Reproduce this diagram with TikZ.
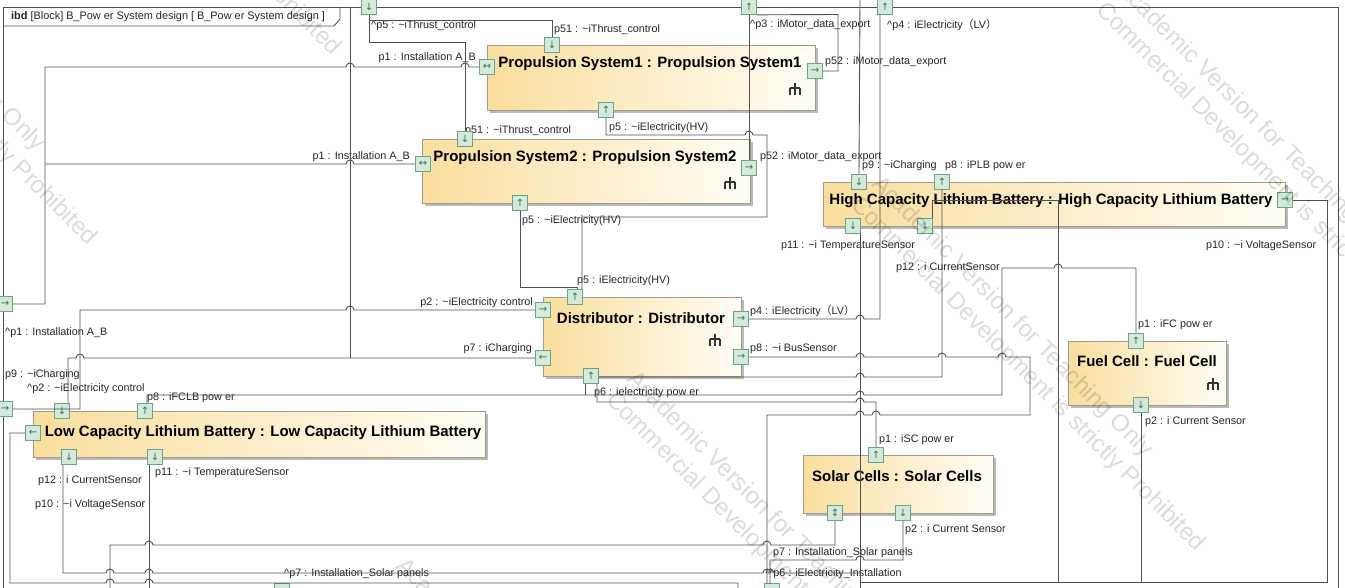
\documentclass[tikz,border=0pt]{standalone}
\usepackage{fontspec}
\setmainfont{Liberation Sans}
\newfontfamily\dejavu{DejaVu Sans}
\newfontfamily\cjk{Noto Sans CJK SC}
\usetikzlibrary{shadows}

\definecolor{ln}{RGB}{80,80,80}
\definecolor{pfill}{RGB}{212,233,220}
\definecolor{pdraw}{RGB}{105,165,130}
\definecolor{parw}{RGB}{50,120,80}
\definecolor{bdraw}{RGB}{160,155,140}
\definecolor{byel}{RGB}{250,222,158}
\definecolor{bwht}{RGB}{255,253,245}

\newcommand{\hR}[2]{-- ({#1-4},#2) arc[start angle=180,end angle=0,radius=4pt]}
\newcommand{\hL}[2]{-- ({#1+4},#2) arc[start angle=0,end angle=180,radius=4pt]}

\tikzset{
 conn/.style={draw=ln, line width=0.9pt},
 frm/.style={draw=ln, line width=0.9pt},
 blk/.style={draw=bdraw, line width=0.8pt, left color=byel, right color=bwht, inner sep=0pt, anchor=north west,
   drop shadow={shadow xshift=3pt,shadow yshift=-3pt,fill=black!45,opacity=0.6}},
 ttl/.style={font=\fontsize{15}{17}\selectfont\bfseries, text=black, inner sep=0pt},
 port/.style={draw=pdraw, fill=pfill, line width=0.7pt, minimum size=15pt, inner sep=0pt, font=\dejavu\fontsize{10}{10}\selectfont, text=parw},
 lbl/.style={font=\fontsize{10.8}{12}\selectfont, text=black!85, inner sep=0pt},
 wmk/.style={font=\fontsize{24}{28}\selectfont, text=black, opacity=0.14, rotate=-45, anchor=base west, inner sep=0pt},
 icon/.pic={\draw[line width=1.4pt, black!80] (0,-6)--(0,6) (-5,-1)--(5,-1) (-5,-1)--(-5,6) (5,-1)--(5,6);}
}

\begin{document}
\begin{tikzpicture}[x=1pt,y=-1pt]
\useasboundingbox (0,0) rectangle (1345,588);
\clip (0,0) rectangle (1345,588);
\fill[white] (0,0) rectangle (1345,588);

% frame
\draw[frm] (3,7) rectangle (1338,591);
\draw[frm] (3,26) -- (334,26) -- (340,19) -- (340,7);
\node[lbl, anchor=west, font=\fontsize{10.9}{12}\selectfont] (hdr) at (11,17) {\textbf{ibd} [Block] B\_Pow er System design [ B\_Pow er System design ]};

% blocks
\node[blk, minimum width=328pt, minimum height=65pt] (ps1) at (487,45) {};
\node[blk, minimum width=328pt, minimum height=64pt] (ps2) at (422,139) {};
\node[blk, minimum width=462pt, minimum height=44pt] (hclb) at (823,182) {};
\node[blk, minimum width=198pt, minimum height=79pt] (dist) at (543,297) {};
\node[blk, minimum width=158pt, minimum height=64pt] (fc) at (1068,341) {};
\node[blk, minimum width=452pt, minimum height=46pt] (lclb) at (33,411) {};
\node[blk, minimum width=190pt, minimum height=58pt] (sc) at (803,455) {};

\node[ttl] (t1) at (650,64) {Propulsion System1 : Propulsion System1};
\node[ttl] (t2) at (585,158) {Propulsion System2 : Propulsion System2};
\node[ttl] (t3) at (1051,201) {High Capacity Lithium Battery : High Capacity Lithium Battery};
\node[ttl] (t4) at (641,318) {Distributor : Distributor};
\node[ttl] (t5) at (1147,361) {Fuel Cell : Fuel Cell};
\node[ttl] (t6) at (263,433) {Low Capacity Lithium Battery : Low Capacity Lithium Battery};
\node[ttl] (t7) at (897,476) {Solar Cells : Solar Cells};

\pic at (795,89) {icon};
\pic at (730,183) {icon};
\pic at (715,340) {icon};
\pic at (1213,384) {icon};

% labels
\node[lbl, anchor=west] (a1) at (371,26) {\textasciicircum p5 : \textasciitilde iThrust\_control};
\node[lbl, anchor=west] (a2) at (554,30) {p51 : \textasciitilde iThrust\_control};
\node[lbl, anchor=east] (a3) at (476,58) {p1 : Installation A\_B};
\node[lbl, anchor=west] (a4) at (750,25) {\textasciicircum p3 : iMotor\_data\_export};
\node[lbl, anchor=west] (a5) at (887,25) {\textasciicircum p4 : iElectricity{\cjk （}LV{\cjk ）}};
\node[lbl, anchor=west] (a6) at (825,62) {p52 : iMotor\_data\_export};
\node[lbl, anchor=west] (a7) at (465,131) {p51 : \textasciitilde iThrust\_control};
\node[lbl, anchor=west] (a8) at (609,128) {p5 : \textasciitilde iElectricity(HV)};
\node[lbl, anchor=east] (a9) at (410,157) {p1 : Installation A\_B};
\node[lbl, anchor=west] (a10) at (760,157) {p52 : iMotor\_data\_export};
\node[lbl, anchor=west] (a11) at (862,166) {p9 : \textasciitilde iCharging};
\node[lbl, anchor=west] (a12) at (945,166) {p8 : iPLB pow er};
\node[lbl, anchor=west] (a13) at (522,221) {p5 : \textasciitilde iElectricity(HV)};
\node[lbl, anchor=west] (a14) at (781,246) {p11 : \textasciitilde i TemperatureSensor};
\node[lbl, anchor=west] (a15) at (1206,246) {p10 : \textasciitilde i VoltageSensor};
\node[lbl, anchor=west] (a16) at (896,268) {p12 : i CurrentSensor};
\node[lbl, anchor=west] (a17) at (577,281) {p5 : iElectricity(HV)};
\node[lbl, anchor=east] (a18) at (533,303) {p2 : \textasciitilde iElectricity control};
\node[lbl, anchor=west] (a19) at (750,311) {p4 : iElectricity{\cjk （}LV{\cjk ）}};
\node[lbl, anchor=west] (a20) at (1138,325) {p1 : iFC pow er};
\node[lbl, anchor=west] (a21) at (5,333) {\textasciicircum p1 : Installation A\_B};
\node[lbl, anchor=east] (a22) at (532,349) {p7 : iCharging};
\node[lbl, anchor=west] (a23) at (750,349) {p8 : \textasciitilde i BusSensor};
\node[lbl, anchor=west] (a24) at (5,375) {p9 : \textasciitilde iCharging};
\node[lbl, anchor=west] (a25) at (27,389) {\textasciicircum p2 : \textasciitilde iElectricity control};
\node[lbl, anchor=west] (a26) at (594,393) {p6 : ielectricity pow er};
\node[lbl, anchor=west] (a27) at (147,398) {p8 : iFCLB pow er};
\node[lbl, anchor=west] (a28) at (1145,422) {p2 : i Current Sensor};
\node[lbl, anchor=west] (a29) at (879,440) {p1 : iSC pow er};
\node[lbl, anchor=west] (a30) at (155,473) {p11 : \textasciitilde i TemperatureSensor};
\node[lbl, anchor=west] (a31) at (38,481) {p12 : i CurrentSensor};
\node[lbl, anchor=west] (a32) at (35,505) {p10 : \textasciitilde i VoltageSensor};
\node[lbl, anchor=west] (a33) at (905,530) {p2 : i Current Sensor};
\node[lbl, anchor=west] (a34) at (773,553) {p7 : Installation\_Solar panels};
\node[lbl, anchor=west] (a35) at (284,574) {\textasciicircum p7 : Installation\_Solar panels};
\node[lbl, anchor=west] (a36) at (768,574) {\textasciicircum p6 : iElectricity\_Installation};

% ports
\node[port] (ps1p51) at (552,45) {↓};
\node[port] (ps1p1) at (487,67) {↔};
\node[port] (ps1p52) at (815,71) {→};
\node[port] (ps1p5) at (606,110) {↑};
\node[port] (ps2p51) at (465,139) {↓};
\node[port] (ps2p1) at (423,164) {↔};
\node[port] (ps2p52) at (749,168) {→};
\node[port] (ps2p5) at (520,203) {↑};
\node[port] (hp9) at (859,182) {↓};
\node[port] (hp8) at (942,182) {↑};
\node[port] (hp11) at (853,226) {↓};
\node[port] (hp12) at (925,226) {↓};
\node[port] (hp10) at (1285,200) {→};
\node[port] (dp5) at (575,297) {↑};
\node[port] (dp2) at (543,310) {→};
\node[port] (dp7) at (543,358) {←};
\node[port] (dp4) at (741,319) {→};
\node[port] (dp8) at (741,357) {→};
\node[port] (dp6) at (591,376) {↑};
\node[port] (fcp1) at (1136,341) {↑};
\node[port] (fcp2) at (1141,405) {↓};
\node[port] (lp2) at (62,411) {↓};
\node[port] (lp8) at (145,411) {↑};
\node[port] (lp10) at (33,433) {←};
\node[port] (lp12) at (69,457) {↓};
\node[port] (lp11) at (155,457) {↓};
\node[port] (sp1) at (876,455) {↑};
\node[port] (sp7) at (835,513) {↕};
\node[port] (sp2) at (903,513) {↓};
\node[port] (fp5) at (369,7) {↓};
\node[port] (fp3) at (749,7) {↑};
\node[port] (fp4) at (885,7) {↑};
\node[port] (fp1) at (5,304) {→};
\node[port] (fp2) at (5,409) {→};
\node[port] (fp7) at (282,591) {};
\node[port] (fp6) at (772,591) {};

% connectors
\draw[conn] (fp1.east) -- (45,304) -- (45,67) \hR{350}{67} \hR{465}{67} -- (ps1p1.west);
\draw[conn] (45,164) \hR{350}{164} -- (ps2p1.west);
\draw[conn] (fp5.south) -- (369,42) -- (465,42) -- (ps2p51.north);
\draw[conn] (369,20) -- (552,20) -- (ps1p51.north);
\draw[conn] (350,7) -- (350,358);
\draw[conn] (68,403.5) -- (68,358) \hR{80}{358} -- (dp7.west);
\draw[conn] (fp2.east) -- (80,409) -- (80,310) \hR{350}{310} -- (dp2.west);
\draw[conn] (fp3.south) -- (ps2p52.north);
\draw[conn] (fp3.south east) -- (838,14.5) -- (838,71) -- (ps1p52.east);
\draw[conn] (ps1p5.south) -- (606,135) \hR{749}{135} -- (767,135) -- (767,217) -- (582,217) -- (582,289.5);
\draw[conn] (ps2p5.south) -- (520,287) -- (577,287) -- (577,289.5);
\draw[conn] (880,14.5) -- (880,319) \hL{860}{319} -- (dp4.east);
\draw[conn] (860,0) -- (hp9.north);
\draw[conn] (860,233.5) -- (860,600);
\draw[conn] (942,189.5) -- (942,377) \hL{860}{377} -- (598.5,377);
\draw[conn] (147,403.5) -- (147,395) \hR{860}{395} -- (1002,395) -- (1002,268) \hR{1058}{268} -- (1136,268) -- (fcp1.north);
\draw[conn] (585,383.5) -- (585,395);
\draw[conn] (597,383.5) -- (597,402) \hR{860}{402} -- (876,402) -- (sp1.north);
\draw[conn] (dp8.east) \hR{860}{357} \hR{942}{357} \hR{1002}{357} -- (1030,357) -- (1030,415) \hL{876}{415} \hL{860}{415} -- (767,415) -- (767,583.5);
\draw[conn] (hp10.east) -- (1327,200) -- (1327,582) -- (860,582);
\draw[conn] (fcp2.south) -- (1141,582);
\draw[conn] (932,218.5) -- (932,200) -- (1058,200) -- (1058,582);
\draw[conn] (lp10.west) -- (10,433) -- (10,583) \hR{110}{583} \hR{149}{583} -- (738,583) -- (738,600);
\draw[conn] (63,464.5) -- (63,573) \hR{110}{573} \hR{149}{573} \hR{767}{573} \hR{770}{573} -- (860,573);
\draw[conn] (sp7.south) -- (835,545) \hL{767}{545} \hL{149}{545} -- (110,545) -- (110,600);
\draw[conn] (sp2.south) -- (903,560) \hL{860}{560} -- (770,560) -- (770,583.5);
\draw[conn] (149,464.5) -- (149,600);

% watermark
\foreach \sx/\sy [count=\k] in {-258/-100, -14/-290, 605/401, 850/206, 1095/11}{
  \node[wmk] (wa\k) at ({\sx+21},{\sy-21}) {Academic Version for Teaching Only};
  \node[wmk] (wb\k) at (\sx,\sy) {Commercial Development is strictly Prohibited};
}
\node[wmk] (wa6) at (395,567) {Academic Version for Teaching Only};
\end{tikzpicture}
\end{document}
